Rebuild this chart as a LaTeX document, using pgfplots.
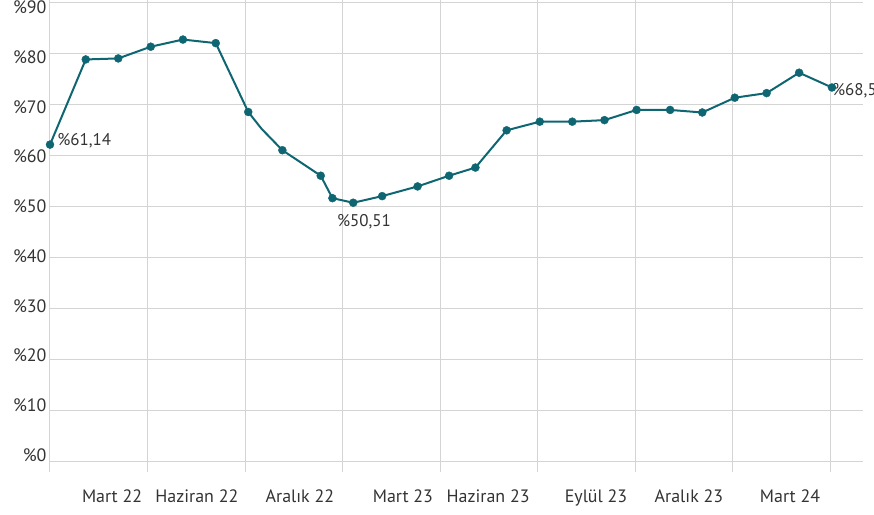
\documentclass[border=0pt]{standalone}
\usepackage{fontspec}
\setmainfont{PT Sans}
\usepackage{pgfplots}
\pgfplotsset{compat=1.18}
\definecolor{lineteal}{HTML}{0F6673}
\definecolor{gridc}{HTML}{D4D4D4}
\definecolor{txt}{HTML}{333333}
\begin{document}
\begin{tikzpicture}
\begin{axis}[
  scale only axis, width=812.5bp, height=471.2bp,
  xmin=0, xmax=25, ymin=-2, ymax=90.4,
  axis line style={draw=none},
  xtick={0,3,...,24}, xticklabels={},
  ytick={0,10,...,90},
  yticklabel={\%\pgfmathprintnumber{\tick}},
  yticklabel style={yshift={6bp-1.2bp*\ticknum}},
  major tick length=0pt,
  grid=major,
  major grid style={gridc, line width=1bp},
  extra x ticks={1.91,4.52,7.69,10.86,13.48,16.8,19.66,22.77},
  extra x tick labels={Mart 22,Haziran 22,Aralık 22,Mart 23,Haziran 23,Eylül 23,Aralık 23,Mart 24},
  extra x tick style={grid=none, major tick length=0pt, xticklabel style={yshift=-15bp}},
  tick label style={font=\fontsize{18}{20}\selectfont, text=txt},
  /pgf/number format/assume math mode=true,
  clip=false,
]
\coordinate (o) at (rel axis cs:0,0);
\coordinate (e) at (rel axis cs:1,1);
% line (with the unmarked bend after the 7th point)
\addplot[lineteal, line width=2bp] coordinates {
 (0,62.1) (1.10,78.8) (2.10,79.0) (3.10,81.3) (4.09,82.7) (5.10,82.0)
 (6.10,68.5) (6.51,65.2) (7.15,61.0) (8.33,56.0) (8.69,51.6) (9.33,50.7)
 (10.22,52.0) (11.31,53.9) (12.28,56.0) (13.09,57.6) (14.05,64.9)
 (15.07,66.6) (16.07,66.6) (17.06,66.9) (18.05,68.9) (19.08,68.9)
 (20.07,68.4) (21.07,71.3) (22.05,72.2) (23.05,76.2) (24.06,73.3)};
\addplot[only marks, mark=*, mark size=4bp, lineteal] coordinates {
 (0,62.1) (1.10,78.8) (2.10,79.0) (3.10,81.3) (4.09,82.7) (5.10,82.0)
 (6.10,68.5) (7.15,61.0) (8.33,56.0) (8.69,51.6) (9.33,50.7)
 (10.22,52.0) (11.31,53.9) (12.28,56.0) (13.09,57.6) (14.05,64.9)
 (15.07,66.6) (16.07,66.6) (17.06,66.9) (18.05,68.9) (19.08,68.9)
 (20.07,68.4) (21.07,71.3) (22.05,72.2) (23.05,76.2) (24.06,73.3)};
\node[anchor=west, inner sep=0pt, text=txt, font=\fontsize{17}{19}\selectfont] at (axis cs:0.22,62.9) {\%61,14};
\node[inner sep=0pt, text=txt, font=\fontsize{17}{19}\selectfont] at (axis cs:9.66,47.0) {\%50,51};
\node[anchor=west, inner sep=0pt, text=txt, font=\fontsize{17}{19}\selectfont] at (axis cs:24.06,72.7) {\%68,5};
\end{axis}
\pgfresetboundingbox
\path[use as bounding box] ([xshift=-50bp,yshift=-43bp]o) rectangle ([xshift=11.5bp,yshift=0.3bp]e);
\end{tikzpicture}
\end{document}
